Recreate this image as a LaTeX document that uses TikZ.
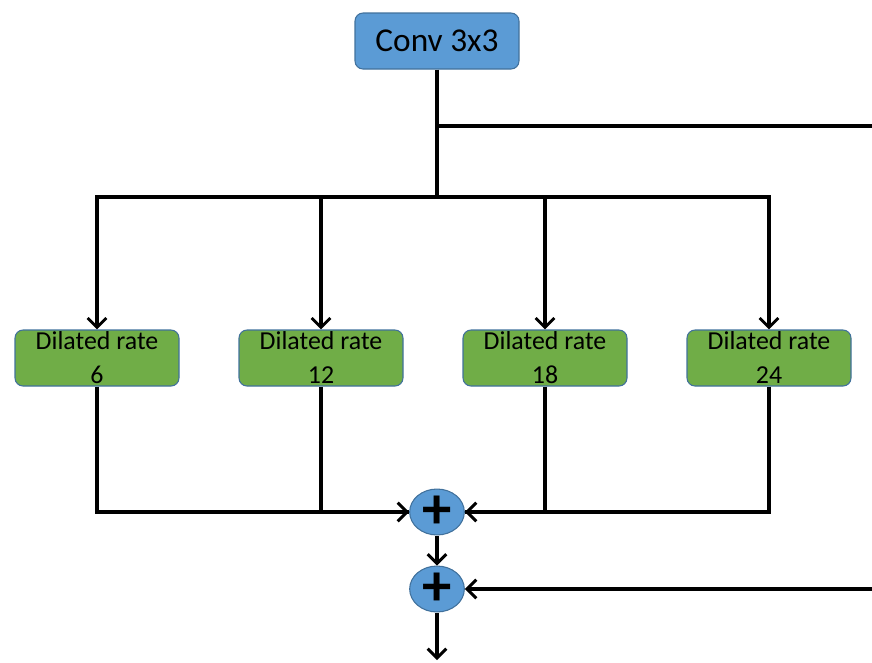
\documentclass[tikz,border=0pt]{standalone}
\usepackage{fontspec}
\setmainfont{Carlito}
\usetikzlibrary{arrows.meta, shapes.geometric}
\definecolor{convblue}{HTML}{5B9BD5}
\definecolor{rategreen}{HTML}{70AD47}
\definecolor{edgeblue}{HTML}{41719C}
\begin{document}
\begin{tikzpicture}[x=0.75pt, y=-0.75pt, line width=2.5pt,
        >={Straight Barb[length=7pt,width=14pt,line width=2.2pt]},
        convbox/.style={draw=edgeblue, line width=0.8pt, fill=convblue, rounded corners=6pt,
            minimum width=123pt, minimum height=42pt, font=\fontsize{25}{28}\selectfont},
        ratebox/.style={draw=edgeblue, line width=0.8pt, fill=rategreen, rounded corners=6pt,
            minimum width=123pt, minimum height=42pt, align=center, inner sep=0pt,
            font=\fontsize{19.4}{25.5}\selectfont},
        addnode/.style={draw=edgeblue, line width=0.8pt, fill=convblue, shape=ellipse,
            minimum width=41pt, minimum height=34pt, inner sep=0pt,
            font=\fontsize{44}{44}\selectfont\bfseries}]
        \useasboundingbox (0,0) rectangle (872,662);
        
        % 输入卷积
        \node[convbox] (conv) at (437,41) {Conv 3x3};
        
        % 四个空洞卷积分支
        \node[ratebox] (r6) at (97,358) {Dilated rate\\6};
        \node[ratebox] (r12) at (321,358) {Dilated rate\\12};
        \node[ratebox] (r18) at (545,358) {Dilated rate\\18};
        \node[ratebox] (r24) at (769,358) {Dilated rate\\24};
        
        % 相加节点
        \node[addnode] (add1) at (437,512) {+};
        \node[addnode] (add2) at (437,589) {+};
        
        % 分叉点
        \coordinate (split) at (437,197);
        \coordinate (skip) at (437,126);
        \coordinate (skipend) at (872,126);
        \coordinate (skipin) at (872,589);
        \coordinate (out) at (437,660);
        
        % 上半部分连线
        \draw (conv) -- (split);
        \draw (skip) -- (skipend);
        \draw[->] (split) -| (r6);
        \draw[->] (split) -| (r12);
        \draw[->] (split) -| (r18);
        \draw[->] (split) -| (r24);
        
        % 下半部分汇合
        \draw[->] (r6) |- (add1);
        \draw (r12) |- (add1);
        \draw[->] (r24) |- (add1);
        \draw (r18) |- (add1);
        \draw[->] (add1) -- (add2);
        \draw[->] (skipin) -- (add2);
        \draw[->] (add2) -- (out);
    \end{tikzpicture}
\end{document}
